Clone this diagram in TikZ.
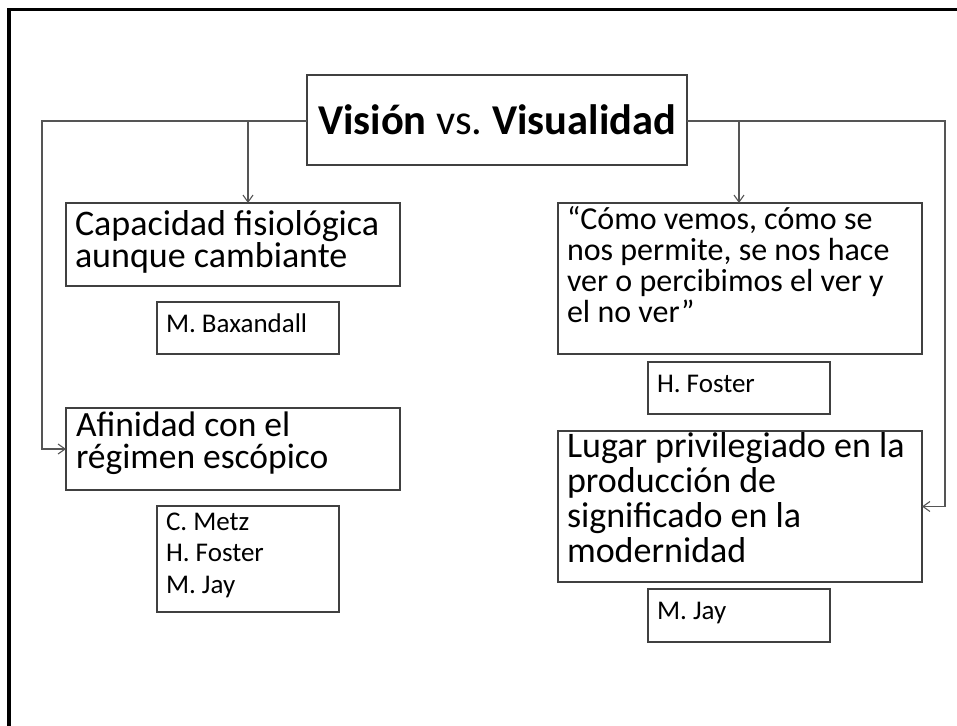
\documentclass[tikz,border=0pt]{standalone}
\usepackage{fontspec}
\setmainfont{Carlito}
\usetikzlibrary{arrows.meta}
\definecolor{linec}{HTML}{555555}
\definecolor{boxc}{HTML}{404040}
\frenchspacing
\begin{document}
\begin{tikzpicture}[x=1pt,y=-1pt,
  box/.style={draw=boxc, line width=1.2pt, anchor=north west, inner sep=0pt, outer sep=0pt},
  txt/.style={anchor=north west, inner sep=0pt, outer sep=0pt, align=left, text=black},
  small/.style={font=\fontsize{27}{31.5}\selectfont},
  conn/.style={draw=linec, line width=1.2pt},
  arr/.style={conn, -{Straight Barb[length=7pt,width=10pt,line width=1.1pt]}}]
\useasboundingbox (0,0) rectangle (957,725);
\fill[white] (0,0) rectangle (957,725);
% outer frame
\draw[line width=3.5pt] (9,740) -- (9,9.5) -- (975,9.5);

% title
\node[box, minimum width=380pt, minimum height=90pt, font=\fontsize{42.5}{46}\selectfont] (title) at (307,75)
  {\textbf{Visión} vs. \textbf{Visualidad}};

% left column
\node[box, minimum width=334pt, minimum height=83pt] (cap) at (66,203) {};
\node[txt, font=\fontsize{36}{32.5}\selectfont] (captx) at (75,205) {\rule{0pt}{30pt}Capacidad fisiológica\\aunque cambiante};
\node[box, minimum width=182pt, minimum height=52pt] (bax) at (157,302) {};
\node[txt, small] (baxtx) at (166,310) {\rule{0pt}{22pt}M. Baxandall};

\node[box, minimum width=334pt, minimum height=82pt] (afi) at (66,408) {};
\node[txt, font=\fontsize{35.5}{32.5}\selectfont] (afitx) at (76,406) {\rule{0pt}{30pt}Afinidad con el\\régimen escópico};
\node[box, minimum width=182pt, minimum height=106pt] (metz) at (157,506) {};
\node[txt, small] (metztx) at (166,508) {\rule{0pt}{22pt}C. Metz\\H. Foster\\M. Jay};

% right column
\node[box, minimum width=364pt, minimum height=151pt] (como) at (558,203) {};
\node[txt, font=\fontsize{32}{31}\selectfont] (comotx) at (567,199) {\rule{0pt}{30pt}“Cómo vemos, cómo se\\nos permite, se nos hace\\ver o percibimos el ver y\\el no ver”};
\node[box, minimum width=182pt, minimum height=52pt] (fos) at (648,362) {};
\node[txt, small] (fostx) at (657,370) {\rule{0pt}{22pt}H. Foster};

\node[box, minimum width=364pt, minimum height=151pt] (lug) at (558,431) {};
\node[txt, font=\fontsize{36}{35}\selectfont] (lugtx) at (567,427) {\rule{0pt}{30pt}Lugar privilegiado en la\\producción de\\significado en la\\modernidad};
\node[box, minimum width=182pt, minimum height=53pt] (jay) at (648,589) {};
\node[txt, small] (jaytx) at (657,597) {\rule{0pt}{22pt}M. Jay};

% connectors
\coordinate (lc) at (42,121);
\coordinate (rc) at (945,121);
\coordinate (b1) at (248,121);
\coordinate (b2) at (739,121);
\draw[arr] (title.west |- lc) -- (lc) |- (afi.west);
\draw[arr] (title.east |- rc) -- (rc) |- (lug.east);
\draw[arr] (b1) -- (b1 |- cap.north);
\draw[arr] (b2) -- (b2 |- como.north);
\end{tikzpicture}
\end{document}
